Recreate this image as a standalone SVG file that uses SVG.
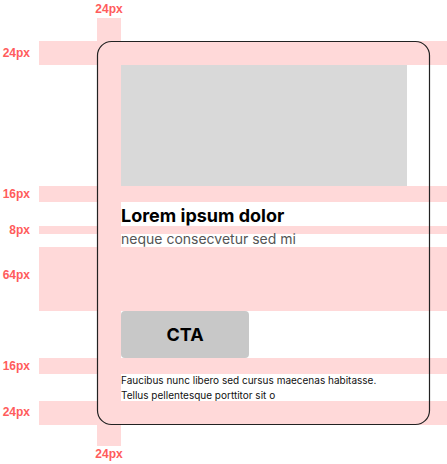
<svg xmlns="http://www.w3.org/2000/svg" width="447" height="464" viewBox="0 0 447 464">
<style>
.band{fill:#FFD9D9}
.lbl{font-family:"Liberation Sans",Arial,sans-serif;font-weight:bold;font-size:12px;fill:#FF5C5C}
.l{text-anchor:end}
.c{text-anchor:middle}
.t{font-family:Inter,"Liberation Sans",sans-serif}
</style>
<rect width="447" height="464" fill="#fff"/>
<g id="spacing-bands">
<rect class="band" x="97" y="18" width="24" height="428"/>
<rect class="band" x="39" y="41" width="408" height="24"/>
<rect class="band" x="39" y="186" width="408" height="16"/>
<rect class="band" x="39" y="226" width="408" height="8"/>
<rect class="band" x="39" y="247" width="408" height="64"/>
<rect class="band" x="39" y="358" width="408" height="16"/>
<rect class="band" x="39" y="401" width="408" height="24"/>
</g>
<g id="card">
<rect x="121" y="65" width="286" height="121" fill="#D9D9D9"/>
<rect x="121" y="202" width="326" height="24" fill="#fff"/>
<rect x="121" y="234" width="326" height="13" fill="#fff"/>
<rect x="249" y="311" width="198" height="47" fill="#fff"/>
<rect x="121" y="374" width="326" height="27" fill="#fff"/>
<text class="t" x="121" y="222.3" font-size="18" font-weight="bold" fill="#000">Lorem ipsum dolor</text>
<text class="t" x="121" y="243.5" font-size="14" fill="#555">neque consecvetur sed mi</text>
<g id="cta">
<rect x="121" y="311" width="128" height="47" rx="4" fill="#C8C8C8"/>
<text class="t" x="185" y="340.7" font-size="18" font-weight="bold" fill="#000" text-anchor="middle">CTA</text>
</g>
<text class="t" x="121" y="384.3" font-size="10" fill="#111">Faucibus nunc libero sed cursus maecenas habitasse.</text>
<text class="t" x="121" y="399.3" font-size="10" fill="#111">Tellus pellentesque porttitor sit o</text>
<rect x="97.5" y="41.5" width="332" height="383" rx="14" fill="none" stroke="#222" stroke-width="1.2"/>
</g>
<g id="labels">
<text class="lbl c" x="109" y="12.8">24px</text>
<text class="lbl l" x="30" y="57.2">24px</text>
<text class="lbl l" x="30" y="198.3">16px</text>
<text class="lbl l" x="30" y="233.5">8px</text>
<text class="lbl l" x="30" y="279">64px</text>
<text class="lbl l" x="30" y="370">16px</text>
<text class="lbl l" x="30" y="416.2">24px</text>
<text class="lbl c" x="109" y="458.3">24px</text>
</g>
</svg>
